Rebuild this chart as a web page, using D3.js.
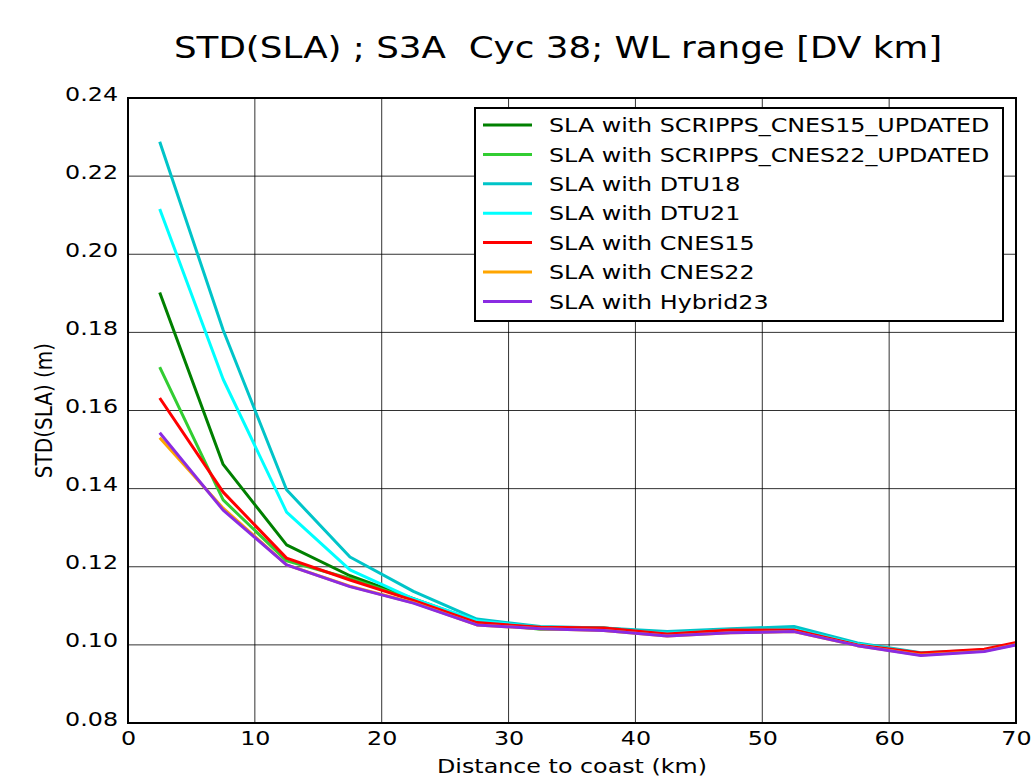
<!DOCTYPE html>
<html>
<head>
<meta charset="utf-8">
<script src="https://cdn.jsdelivr.net/npm/d3@7"></script>
<style>
  html, body { margin: 0; padding: 0; background: #fff; }
  text { font-family: "DejaVu Sans", sans-serif; fill: #000; }
</style>
</head>
<body>
<div id="chart"></div>
<script>
// Data
const distances = [2.5, 7.5, 12.5, 17.5, 22.5, 27.5, 32.5, 37.5, 42.5, 47.5, 52.5, 57.5, 62.5, 67.5, 72.5];

const scrippsCnes15 = [0.1902, 0.1462, 0.1256, 0.1177, 0.1118, 0.1060, 0.1045, 0.1043, 0.1030, 0.1038, 0.1038, 0.1000, 0.0977, 0.0987, 0.1020];
const scrippsCnes22 = [0.1711, 0.1371, 0.1215, 0.1170, 0.1115, 0.1058, 0.1040, 0.1040, 0.1028, 0.1037, 0.1037, 0.1000, 0.0977, 0.0986, 0.1018];
const dtu18 = [0.2288, 0.1806, 0.1397, 0.1225, 0.1137, 0.1066, 0.1047, 0.1043, 0.1034, 0.1041, 0.1047, 0.1005, 0.0980, 0.0987, 0.1015];
const dtu21 = [0.2116, 0.1680, 0.1340, 0.1192, 0.1118, 0.1062, 0.1045, 0.1040, 0.1030, 0.1038, 0.1040, 0.1002, 0.0978, 0.0986, 0.1016];
const cnes15 = [0.1632, 0.1391, 0.1222, 0.1166, 0.1114, 0.1057, 0.1045, 0.1043, 0.1028, 0.1038, 0.1038, 0.1000, 0.0979, 0.0989, 0.1023];
const cnes22 = [0.1530, 0.1350, 0.1205, 0.1150, 0.1108, 0.1051, 0.1041, 0.1037, 0.1023, 0.1031, 0.1034, 0.0998, 0.0974, 0.0984, 0.1018];
const hybrid23 = [0.1543, 0.1345, 0.1205, 0.1149, 0.1107, 0.1051, 0.1041, 0.1037, 0.1023, 0.1031, 0.1034, 0.0998, 0.0973, 0.0983, 0.1017];

const seriesNames = [
    'SLA with SCRIPPS_CNES15_UPDATED',
    'SLA with SCRIPPS_CNES22_UPDATED',
    'SLA with DTU18',
    'SLA with DTU21',
    'SLA with CNES15',
    'SLA with CNES22',
    'SLA with Hybrid23'
];
const seriesValues = [scrippsCnes15, scrippsCnes22, dtu18, dtu21, cnes15, cnes22, hybrid23];
const seriesColors = ['#008000', '#32cd32', '#00c4c8', '#00ffff', '#ff0000', '#ffa500', '#8a2be2'];

const xTicks = [0, 10, 20, 30, 40, 50, 60, 70];
const yTicks = [0.08, 0.10, 0.12, 0.14, 0.16, 0.18, 0.20, 0.22, 0.24];

// the source picture is stretched sideways: text is wider than the font
const SX = 1.19;

// Dimensions
const W = 1036, H = 777;
const margin = { top: 98, right: 20, bottom: 54, left: 128 };
const width = W - margin.left - margin.right;
const height = H - margin.top - margin.bottom;

const svg = d3.select('#chart')
    .append('svg')
    .attr('width', W)
    .attr('height', H);

const g = svg.append('g')
    .attr('transform', `translate(${margin.left},${margin.top})`);

// Scales
const x = d3.scaleLinear().domain([0, 70]).range([0, width]);
const y = d3.scaleLinear().domain([0.08, 0.24]).range([height, 0]);

// Grid
g.append('g')
    .selectAll('line.vg')
    .data(xTicks)
    .enter()
    .append('line')
    .attr('x1', d => x(d)).attr('x2', d => x(d))
    .attr('y1', 0).attr('y2', height)
    .attr('stroke', '#000').attr('stroke-width', 1).attr('opacity', 0.8);

g.append('g')
    .selectAll('line.hg')
    .data(yTicks)
    .enter()
    .append('line')
    .attr('x1', 0).attr('x2', width)
    .attr('y1', d => y(d)).attr('y2', d => y(d))
    .attr('stroke', '#000').attr('stroke-width', 1).attr('opacity', 0.8);

// Lines (clipped to the plot area)
svg.append('defs').append('clipPath').attr('id', 'clip')
    .append('rect').attr('width', width).attr('height', height);

const line = d3.line()
    .x((d, i) => x(distances[i]))
    .y(d => y(d));

g.append('g')
    .attr('clip-path', 'url(#clip)')
    .selectAll('path')
    .data(seriesValues)
    .enter()
    .append('path')
    .attr('d', d => line(d))
    .attr('fill', 'none')
    .attr('stroke', (d, i) => seriesColors[i])
    .attr('stroke-width', 3)
    .attr('stroke-linejoin', 'round');

// Axes
const xAxis = g.append('g')
    .attr('transform', `translate(0,${height})`)
    .call(d3.axisBottom(x).tickValues(xTicks).tickSize(0).tickPadding(8).tickFormat(d3.format('d')));

const yAxis = g.append('g')
    .call(d3.axisLeft(y).tickValues(yTicks).tickSize(0).tickPadding(8.4).tickFormat(d3.format('.2f')));

[xAxis, yAxis].forEach(a => {
    a.select('.domain').remove();
    a.selectAll('text')
        .attr('font-size', 20)
        .attr('font-family', '"DejaVu Sans", sans-serif')
        .attr('transform', `scale(${SX},1)`);
});
yAxis.selectAll('text').attr('dy', '0.1em');

// Frame
g.append('rect')
    .attr('width', width).attr('height', height)
    .attr('fill', 'none').attr('stroke', '#000').attr('stroke-width', 2);

// Title & labels
svg.append('text')
    .attr('transform', `translate(558,58) scale(${SX},1)`)
    .attr('text-anchor', 'middle')
    .attr('font-size', 30)
    .style('white-space', 'pre')
    .text('STD(SLA) ; S3A  Cyc 38; WL range [DV km]');

svg.append('text')
    .attr('transform', `translate(${margin.left + width / 2},773) scale(${SX},1)`)
    .attr('text-anchor', 'middle')
    .attr('font-size', 20)
    .text('Distance to coast (km)');

svg.append('text')
    .attr('transform', `translate(52,${margin.top + height / 2}) rotate(-90) scale(1,${SX})`)
    .attr('text-anchor', 'middle')
    .attr('font-size', 20)
    .text('STD(SLA) (m)');

// Legend
const legend = svg.append('g').attr('transform', 'translate(475,108)');
legend.append('rect')
    .attr('width', 528).attr('height', 213)
    .attr('fill', '#fff').attr('stroke', '#000').attr('stroke-width', 2);

const rows = legend.selectAll('g.row')
    .data(seriesNames)
    .enter()
    .append('g')
    .attr('transform', (d, i) => `translate(0,${17 + i * 29.4})`);

rows.append('line')
    .attr('x1', 8).attr('x2', 57)
    .attr('stroke', (d, i) => seriesColors[i])
    .attr('stroke-width', 3);

rows.append('text')
    .attr('transform', `translate(74,0) scale(${SX},1)`)
    .attr('dy', '0.36em')
    .attr('font-size', 20)
    .text(d => d);
</script>
</body>
</html>
